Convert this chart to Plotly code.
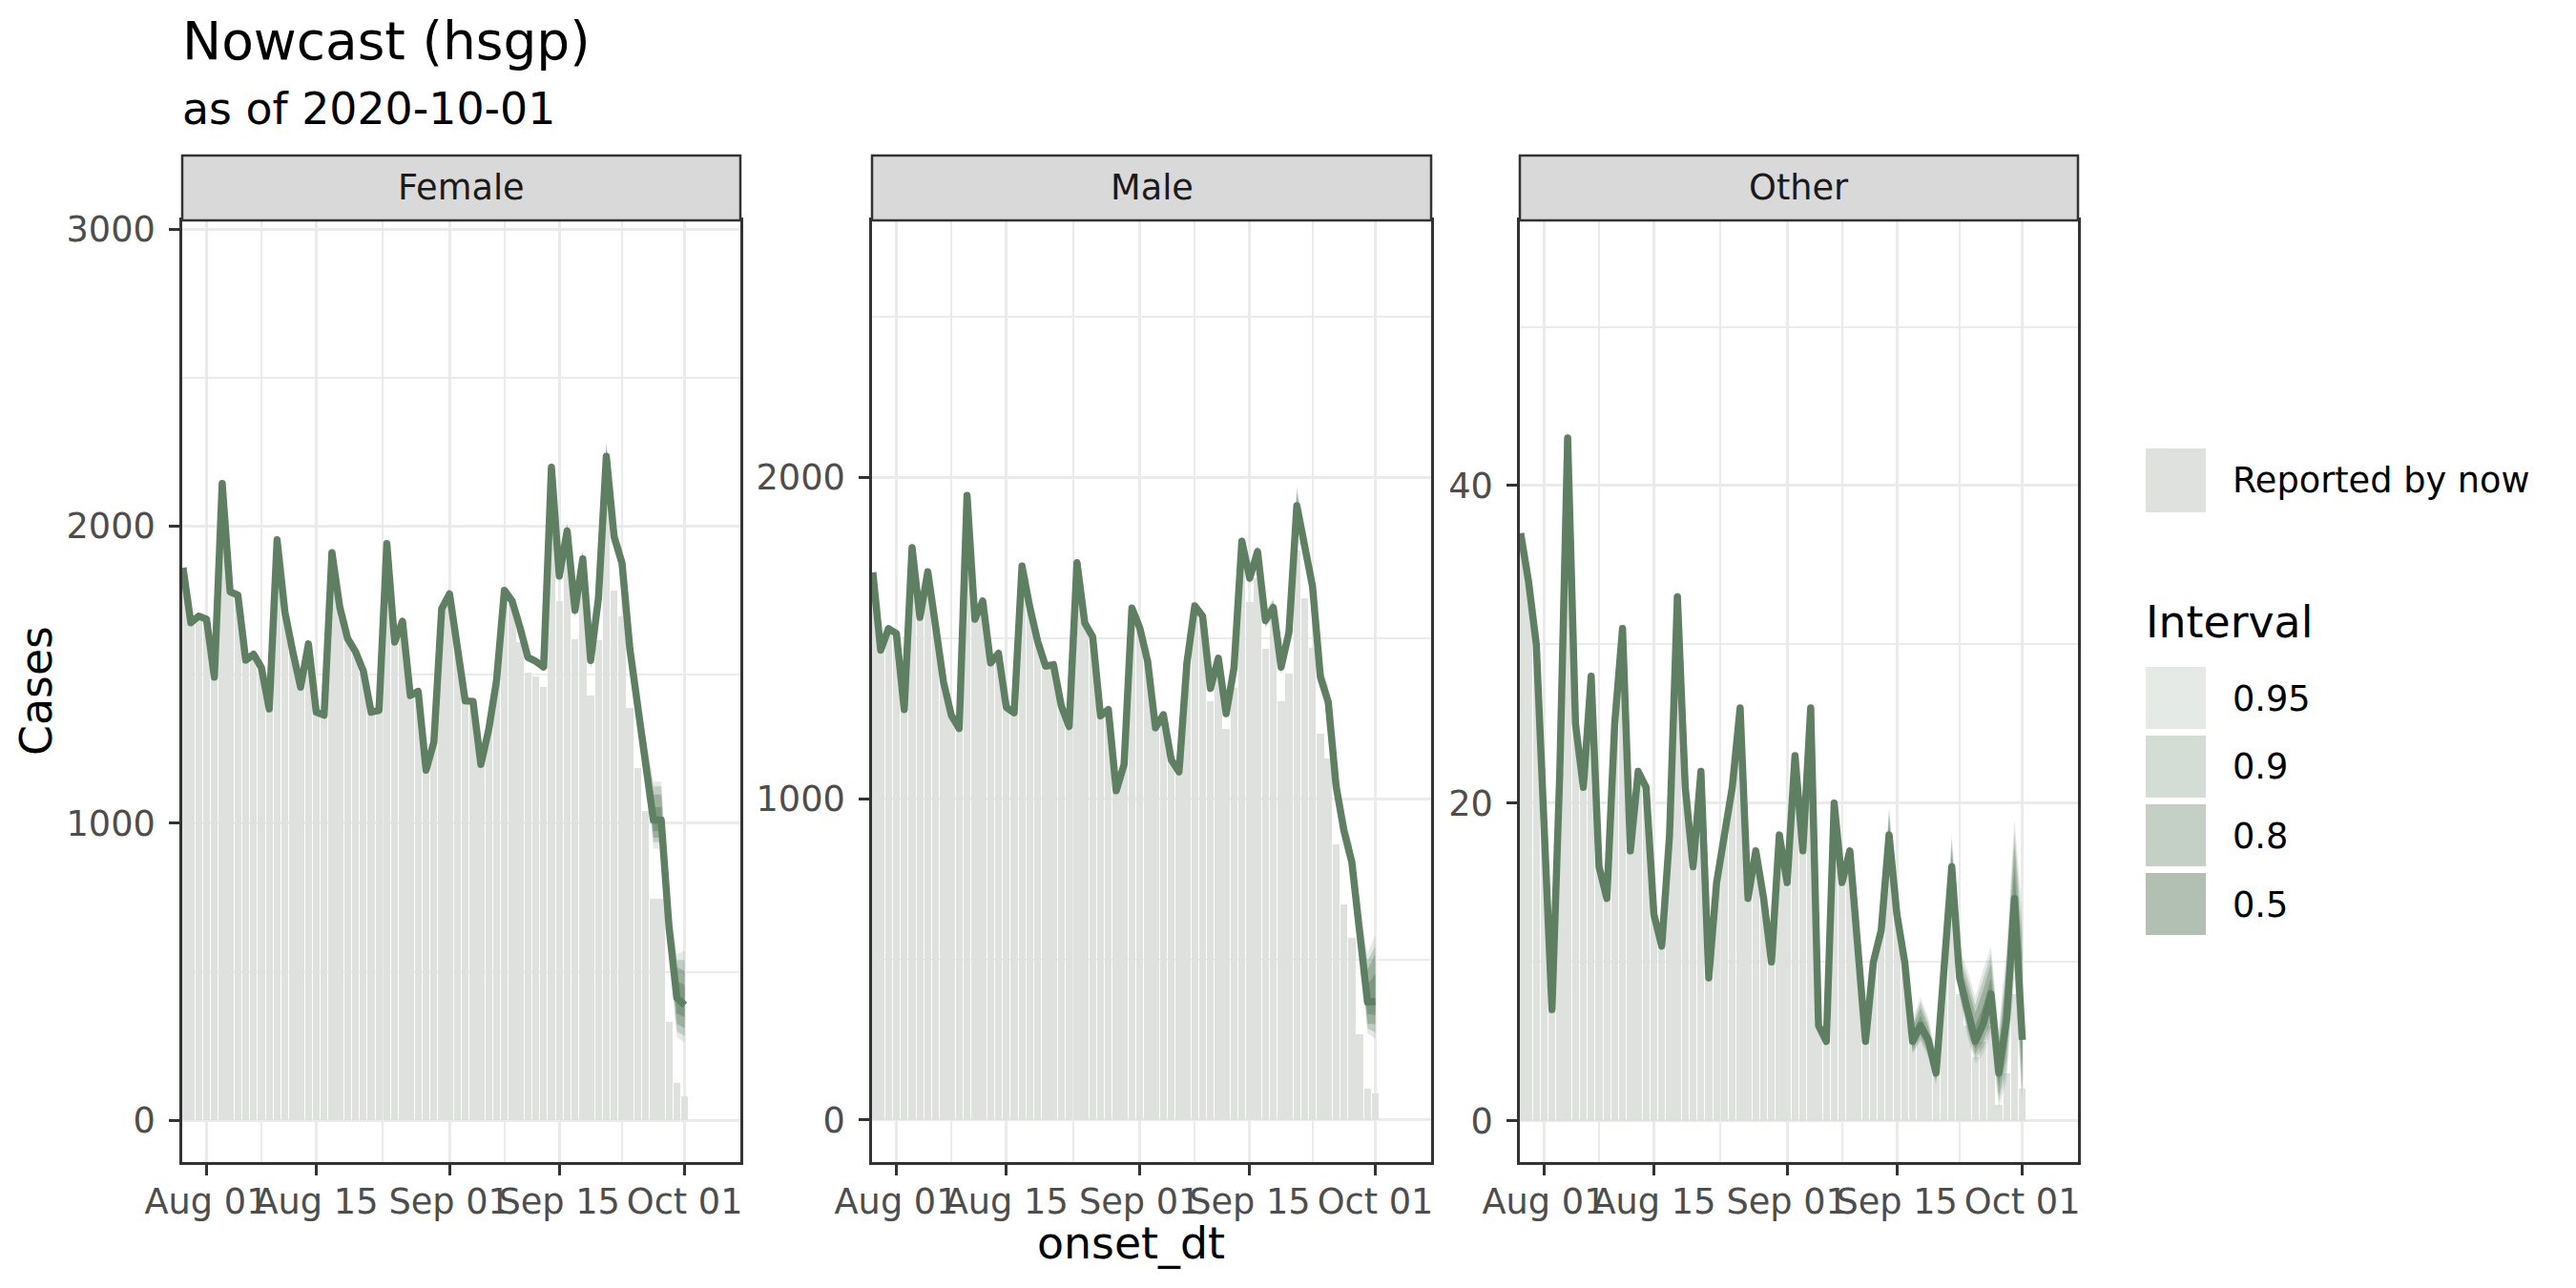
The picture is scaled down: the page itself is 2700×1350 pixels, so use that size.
import pandas as pd
import plotly.graph_objects as go

# onset dates shown in every panel
onset_dt = pd.date_range("2020-07-29", "2020-10-01", freq="D")

female_nowcast = [1860, 1675, 1697, 1687, 1492, 2144, 1779, 1768, 1549, 1569, 1524, 1385,
                  1954, 1711, 1578, 1458, 1604, 1374, 1364, 1911, 1727, 1622, 1578, 1513,
                  1374, 1380, 1941, 1610, 1680, 1430, 1444, 1179, 1273, 1722, 1772, 1588,
                  1412, 1410, 1198, 1316, 1481, 1784, 1747, 1658, 1558, 1545, 1526, 2198,
                  1832, 1984, 1717, 1890, 1548, 1759, 2235, 1963, 1877, 1588, 1396, 1246,
                  1011, 1011, 650, 412, 388]
female_reported = [1860, 1675, 1697, 1687, 1492, 2144, 1779, 1768, 1549, 1569, 1524, 1385,
                   1954, 1711, 1578, 1458, 1604, 1374, 1364, 1911, 1727, 1622, 1578, 1513,
                   1374, 1380, 1941, 1610, 1680, 1430, 1444, 1179, 1273, 1722, 1772, 1588,
                   1412, 1410, 1198, 1316, 1481, 1784, 1747, 1610, 1508, 1494, 1460, 2120,
                   1749, 1890, 1620, 1800, 1430, 1617, 2130, 1784, 1697, 1388, 1185, 1043,
                   747, 746, 332, 128, 80]

male_nowcast = [1705, 1463, 1530, 1515, 1278, 1782, 1565, 1707, 1537, 1364, 1260, 1219,
                1945, 1559, 1616, 1423, 1453, 1285, 1268, 1725, 1596, 1490, 1413, 1418,
                1290, 1225, 1735, 1547, 1505, 1258, 1278, 1025, 1107, 1594, 1532, 1428,
                1221, 1262, 1122, 1084, 1423, 1601, 1569, 1344, 1438, 1265, 1408, 1802,
                1687, 1770, 1555, 1596, 1410, 1519, 1913, 1784, 1661, 1379, 1302, 1040,
                900, 804, 590, 367, 369]
male_reported = [1705, 1463, 1530, 1515, 1278, 1782, 1565, 1707, 1537, 1364, 1260, 1219,
                 1945, 1559, 1616, 1423, 1453, 1285, 1268, 1725, 1596, 1490, 1413, 1418,
                 1290, 1225, 1735, 1547, 1505, 1258, 1278, 1025, 1107, 1594, 1532, 1428,
                 1221, 1262, 1122, 1084, 1423, 1601, 1569, 1305, 1420, 1219, 1344, 1770,
                 1614, 1687, 1466, 1560, 1305, 1391, 1772, 1626, 1470, 1203, 1127, 858,
                 670, 567, 268, 97, 82]

other_nowcast = [37, 34, 30, 18, 7, 22, 43, 25, 21, 28, 16, 14,
                 25, 31, 17, 22, 21, 13, 11, 18, 33, 21, 16, 22,
                 9, 15, 18, 21, 26, 14, 17, 14, 10, 18, 15, 23,
                 17, 26, 6, 5, 20, 15, 17, 11, 5, 10, 12, 18,
                 13, 10, 5, 6, 5.1, 3, 9, 16, 9, 7, 5, 6.1,
                 8, 3, 6.4, 14, 5.1]
other_reported = [37, 34, 30, 18, 7, 22, 43, 25, 21, 28, 16, 14,
                  25, 31, 17, 22, 21, 13, 11, 18, 33, 21, 16, 22,
                  9, 15, 18, 21, 26, 14, 17, 14, 10, 18, 15, 23,
                  17, 26, 6, 5, 20, 15, 17, 11, 5, 10, 12, 18,
                  13, 10, 5, 6, 5, 3, 9, 15, 8, 6, 4, 5,
                  6, 1, 3, 8, 2]

# interval bounds for the last 18 onset days (Sep 13 - Oct 01)
female_lo95 = [2175, 1810, 1955, 1690, 1860, 1518, 1724, 2185, 1918, 1827, 1543, 1348, 1194, 915, 915, 560, 280, 262]
female_hi95 = [2222, 1854, 2014, 1744, 1922, 1578, 1794, 2288, 2008, 1927, 1633, 1444, 1298, 1140, 1140, 745, 560, 572]
female_lo90 = [2179, 1814, 1960, 1695, 1865, 1523, 1730, 2193, 1925, 1835, 1550, 1356, 1203, 936, 936, 575, 300, 284]
female_hi90 = [2218, 1850, 2009, 1740, 1917, 1573, 1788, 2279, 2000, 1919, 1625, 1436, 1290, 1124, 1124, 730, 540, 540]
female_lo80 = [2183, 1818, 1965, 1700, 1870, 1528, 1736, 2201, 1932, 1843, 1557, 1364, 1212, 952, 952, 590, 325, 310]
female_hi80 = [2213, 1846, 2004, 1735, 1911, 1568, 1782, 2270, 1993, 1911, 1618, 1428, 1282, 1097, 1097, 712, 515, 503]
female_lo50 = [2190, 1825, 1974, 1708, 1879, 1537, 1746, 2215, 1945, 1857, 1570, 1378, 1228, 973, 973, 615, 360, 348]
female_hi50 = [2206, 1839, 1994, 1726, 1901, 1559, 1772, 2255, 1981, 1897, 1606, 1414, 1264, 1054, 1054, 685, 470, 455]

male_lo95 = [1785, 1668, 1750, 1530, 1570, 1385, 1490, 1870, 1745, 1620, 1340, 1260, 995, 850, 755, 535, 270, 253]
male_hi95 = [1822, 1708, 1792, 1582, 1625, 1438, 1550, 1975, 1830, 1712, 1425, 1352, 1092, 958, 862, 650, 520, 575]
male_lo90 = [1788, 1672, 1754, 1535, 1575, 1390, 1496, 1878, 1752, 1628, 1348, 1268, 1004, 860, 765, 545, 285, 273]
male_hi90 = [1818, 1704, 1788, 1577, 1619, 1433, 1544, 1963, 1822, 1702, 1416, 1342, 1082, 946, 850, 638, 495, 541]
male_lo80 = [1791, 1675, 1757, 1540, 1580, 1395, 1502, 1886, 1759, 1636, 1356, 1277, 1013, 870, 775, 556, 300, 298]
male_hi80 = [1814, 1700, 1784, 1571, 1613, 1426, 1537, 1950, 1813, 1692, 1406, 1331, 1071, 933, 838, 626, 470, 516]
male_lo50 = [1796, 1680, 1763, 1547, 1588, 1403, 1511, 1898, 1771, 1649, 1368, 1290, 1027, 885, 790, 572, 330, 327]
male_hi50 = [1808, 1694, 1777, 1563, 1604, 1418, 1527, 1930, 1798, 1675, 1392, 1315, 1055, 916, 820, 608, 420, 456]

other_lo95 = [16.8, 12.0, 9.0, 4.2, 5.0, 4.0, 2.2, 8.0, 14.8, 7.8, 5.3, 3.6, 4.2, 5.5, 0.8, 2.5, 9.0, 1.0]
other_hi95 = [19.8, 14.2, 11.0, 6.3, 7.8, 6.5, 4.2, 10.5, 18.1, 10.8, 9.5, 7.8, 9.5, 11.0, 5.8, 11.0, 19.0, 13.0]
other_lo90 = [17.0, 12.2, 9.2, 4.3, 5.2, 4.2, 2.4, 8.2, 15.0, 8.0, 5.6, 3.9, 4.6, 5.9, 1.2, 3.2, 9.8, 1.6]
other_hi90 = [19.5, 13.9, 10.8, 6.0, 7.5, 6.2, 4.0, 10.2, 17.7, 10.4, 9.0, 7.3, 8.9, 10.5, 5.3, 10.2, 18.2, 11.8]
other_lo80 = [17.2, 12.4, 9.4, 4.5, 5.4, 4.4, 2.6, 8.4, 15.2, 8.3, 5.9, 4.2, 5.0, 6.3, 1.6, 4.0, 10.6, 2.3]
other_hi80 = [19.2, 13.6, 10.5, 5.8, 7.1, 5.9, 3.8, 9.9, 17.3, 10.0, 8.5, 6.8, 8.2, 9.9, 4.8, 9.4, 17.4, 10.5]
other_lo50 = [17.6, 12.7, 9.7, 4.7, 5.7, 4.7, 2.8, 8.7, 15.5, 8.6, 6.3, 4.5, 5.5, 7.0, 2.2, 5.0, 12.0, 3.4]
other_hi50 = [18.6, 13.3, 10.3, 5.4, 6.6, 5.5, 3.3, 9.4, 16.6, 9.5, 7.8, 6.0, 7.2, 9.0, 3.9, 8.0, 16.0, 7.8]

panel_names = ["Female", "Male", "Other"]
interval_levels = ["0.95", "0.9", "0.8", "0.5"]
x_tickvals = ["2020-08-01", "2020-08-15", "2020-09-01", "2020-09-15", "2020-10-01"]
x_ticktext = ["Aug 01", "Aug 15", "Sep 01", "Sep 15", "Oct 01"]
x_minor = ["2020-08-08", "2020-08-23 12:00", "2020-09-08", "2020-09-23"]
y_tickvals = [[0, 1000, 2000, 3000], [0, 1000, 2000], [0, 20, 40]]
y_minor = [[500, 1500, 2500], [500, 1500, 2500], [10, 30, 50]]
y_ranges = [[-140, 3029], [-131, 2801], [-2.6, 56.7]]

W, H = 2700, 1350
FONT = "DejaVu Sans"
LINE_COL = "#5f7f63"
BAR_COL = "#dfe1de"
band_alpha = {"0.95": 0.16, "0.9": 0.265, "0.8": 0.37, "0.5": 0.49}
# pixel boxes of the three panels
panel_px = [(191, 776), (914, 1500), (1593, 2178)]
panel_top, panel_bottom, strip_top = 231, 1218, 163


def px(x):
    return x / W


def py(y):
    return 1 - y / H


def band_fill(a):
    return f"rgba(95,127,99,{a})"


panels = [
    (female_nowcast, female_reported,
     {"0.95": (female_lo95, female_hi95), "0.9": (female_lo90, female_hi90),
      "0.8": (female_lo80, female_hi80), "0.5": (female_lo50, female_hi50)}),
    (male_nowcast, male_reported,
     {"0.95": (male_lo95, male_hi95), "0.9": (male_lo90, male_hi90),
      "0.8": (male_lo80, male_hi80), "0.5": (male_lo50, male_hi50)}),
    (other_nowcast, other_reported,
     {"0.95": (other_lo95, other_hi95), "0.9": (other_lo90, other_hi90),
      "0.8": (other_lo80, other_hi80), "0.5": (other_lo50, other_hi50)}),
]

fig = go.Figure()
day_ms = 86400000

for i, (nowcast, reported, bands) in enumerate(panels):
    xa = "x" if i == 0 else f"x{i + 1}"
    ya = "y" if i == 0 else f"y{i + 1}"
    fig.add_trace(go.Bar(x=onset_dt, y=reported, width=0.9 * day_ms,
                         marker=dict(color=BAR_COL, line=dict(width=0)),
                         xaxis=xa, yaxis=ya, showlegend=False, hoverinfo="skip"))
    n = len(bands["0.95"][0])
    # the ribbon starts from the median one day earlier so it tapers in
    bx = list(onset_dt[-(n + 1):])
    start = nowcast[-(n + 1)]
    for lev in interval_levels:
        lo, hi = bands[lev]
        lo = [start] + lo
        hi = [start] + hi
        fig.add_trace(go.Scatter(x=bx + bx[::-1], y=hi + lo[::-1], fill="toself",
                                 fillcolor=band_fill(band_alpha[lev]),
                                 line=dict(width=0), mode="lines",
                                 xaxis=xa, yaxis=ya, showlegend=False, hoverinfo="skip"))
    fig.add_trace(go.Scatter(x=onset_dt, y=nowcast, mode="lines",
                             line=dict(color=LINE_COL, width=7.5),
                             xaxis=xa, yaxis=ya, showlegend=False))

axis_common = dict(showline=True, mirror=True, linecolor="#333333", linewidth=2.5,
                   ticks="outside", ticklen=11, tickwidth=2.5, tickcolor="#333333",
                   showgrid=True, gridcolor="#ebebeb", gridwidth=3, zeroline=False,
                   automargin=False,
                   tickfont=dict(family=FONT, size=36.7, color="#4d4d4d"))

layout = dict(width=W, height=H, margin=dict(l=0, r=0, t=0, b=0, autoexpand=False),
              autosize=False, template="none",
              plot_bgcolor="white", paper_bgcolor="white", showlegend=False,
              font=dict(family=FONT), bargap=0)

for i in range(3):
    sfx = "" if i == 0 else str(i + 1)
    x0, x1 = panel_px[i]
    layout["xaxis" + sfx] = dict(axis_common, domain=[px(x0), px(x1)],
                                 type="date", range=["2020-07-28 21:36", "2020-10-08 02:24"],
                                 tickvals=x_tickvals, ticktext=x_ticktext, tickangle=0,
                                 ticklabelstandoff=-4, anchor="y" + sfx,
                                 minor=dict(tickvals=x_minor, showgrid=True,
                                            gridcolor="#ebebeb", gridwidth=1.5, ticks=""))
    layout["yaxis" + sfx] = dict(axis_common, domain=[py(panel_bottom), py(panel_top)],
                                 range=y_ranges[i], tickvals=y_tickvals[i], ticklabelstandoff=7,
                                 anchor="x" + sfx,
                                 minor=dict(tickvals=y_minor[i], showgrid=True,
                                            gridcolor="#ebebeb", gridwidth=1.5, ticks=""))

fig.update_layout(**layout)

shapes = []
annotations = []
for i, name in enumerate(panel_names):
    x0, x1 = panel_px[i]
    shapes.append(dict(type="rect", xref="paper", yref="paper", x0=px(x0), x1=px(x1),
                       y0=py(panel_top), y1=py(strip_top), fillcolor="#d9d9d9",
                       line=dict(color="#333333", width=2.5), layer="above"))
    annotations.append(dict(text=name, x=px((x0 + x1) / 2),
                            y=py((strip_top + panel_top) / 2),
                            xanchor="center", yanchor="middle",
                            font=dict(family=FONT, size=36.7, color="#1a1a1a")))

annotations += [
    dict(text="Nowcast (hsgp)", x=px(189), y=py(43), xanchor="left", yanchor="middle",
         font=dict(family=FONT, size=55, color="black")),
    dict(text="as of 2020-10-01", x=px(189), y=py(114), xanchor="left", yanchor="middle",
         font=dict(family=FONT, size=45.8, color="black")),
    dict(text="onset_dt", x=px(1185), y=py(1303), xanchor="center", yanchor="middle",
         font=dict(family=FONT, size=45.8, color="black")),
    dict(text="Cases", x=px(38), y=py(724), xanchor="center", yanchor="middle", textangle=-90,
         font=dict(family=FONT, size=45.8, color="black")),
]

# legend drawn by hand: key boxes and labels
key_x0, key_x1 = 2249, 2312
shapes.append(dict(type="rect", xref="paper", yref="paper", x0=px(key_x0), x1=px(key_x1),
                   y0=py(537), y1=py(470), fillcolor=BAR_COL, line=dict(width=0)))
annotations.append(dict(text="Reported by now", x=px(2338), y=py(504), xanchor="left",
                        yanchor="middle", font=dict(family=FONT, size=36.7, color="black")))
annotations.append(dict(text="Interval", x=px(2247), y=py(652), xanchor="left",
                        yanchor="middle", font=dict(family=FONT, size=45.8, color="black")))
key_tops = [699, 771, 843, 915]
for lev, top in zip(interval_levels, key_tops):
    shapes.append(dict(type="rect", xref="paper", yref="paper", x0=px(key_x0), x1=px(key_x1),
                       y0=py(top + 65), y1=py(top), fillcolor=band_fill(band_alpha[lev]),
                       line=dict(width=0)))
    annotations.append(dict(text=lev, x=px(2338), y=py(top + 33), xanchor="left",
                            yanchor="middle", font=dict(family=FONT, size=36.7, color="black")))

for a in annotations:
    a.setdefault("xref", "paper")
    a.setdefault("yref", "paper")
    a.setdefault("showarrow", False)

fig.update_layout(shapes=shapes, annotations=annotations)

fig.write_html("out.html", config={"displayModeBar": False},
               default_width="2700px", default_height="1350px",
               post_script=(
                   "document.documentElement.style.margin='0';"
                   "document.documentElement.style.overflow='hidden';"
                   "document.body.style.margin='0';"
                   "document.body.style.overflow='hidden';"
                   "var s=document.createElement('style');"
                   "s.innerHTML='.js-line{stroke-linejoin:round !important;}';"
                   "document.head.appendChild(s);"))
